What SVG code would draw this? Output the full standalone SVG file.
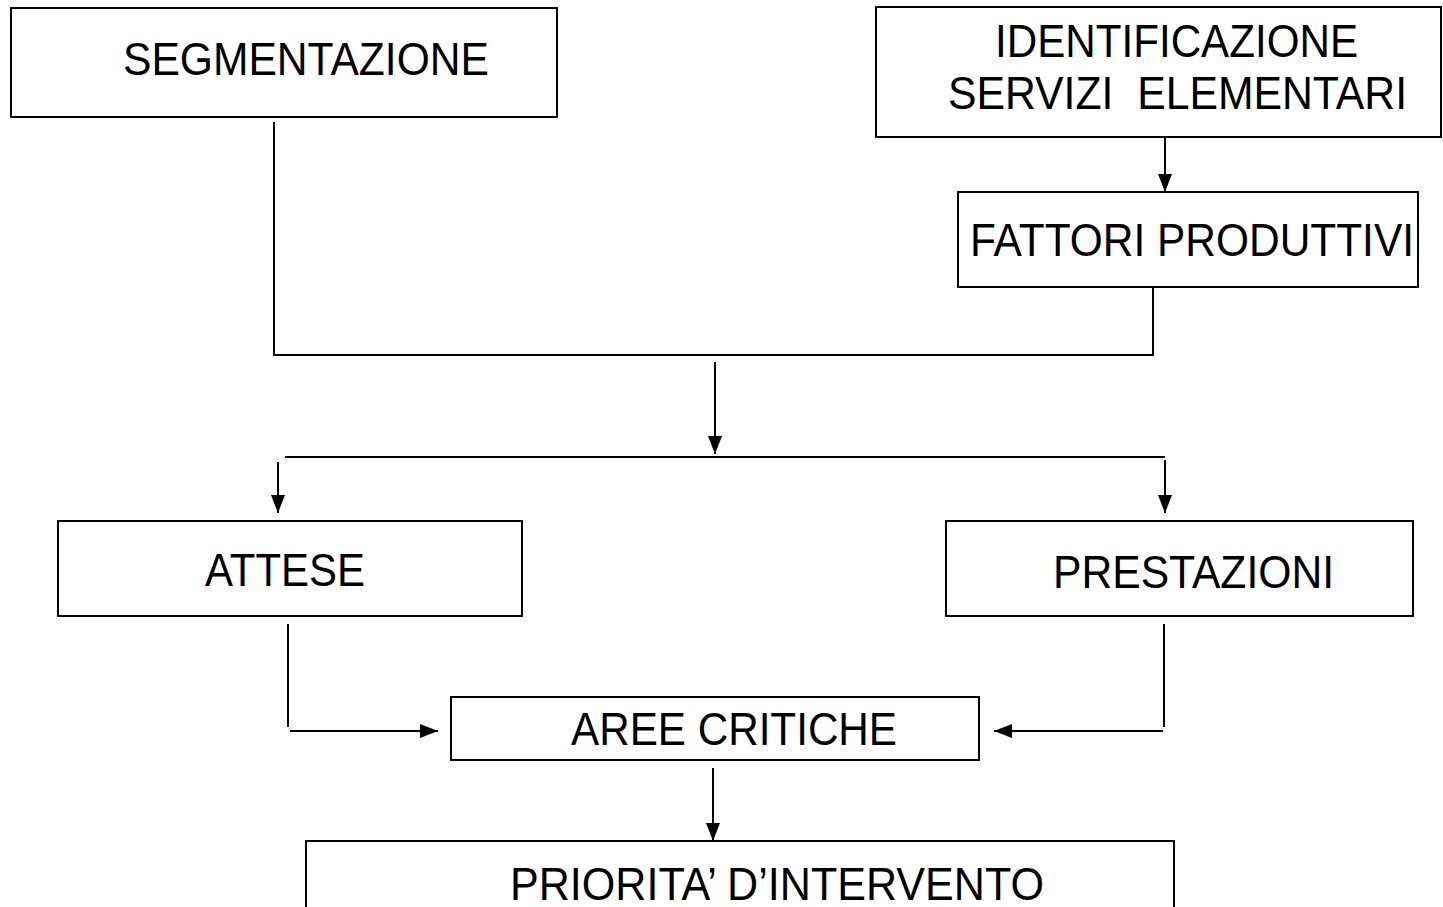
<svg xmlns="http://www.w3.org/2000/svg" width="1443" height="907" viewBox="0 0 1443 907">
<style>
.box{fill:#fff;stroke:#000;stroke-width:2}
.ln{fill:none;stroke:#000;stroke-width:2}
.t{font-family:"Liberation Sans",Arial,sans-serif;font-size:46px;fill:#000}
</style>
<defs>
<marker id="ah" viewBox="0 0 18 14" refX="18" refY="7" markerWidth="18" markerHeight="14" markerUnits="userSpaceOnUse" orient="auto">
<path d="M0,0 L18,7 L0,14 Z" fill="#000"/>
</marker>
</defs>
<rect width="1443" height="907" fill="#fff"/>
<g id="connectors">
<line class="ln" x1="1165" y1="138" x2="1165" y2="192" marker-end="url(#ah)"/>
<polyline class="ln" points="274,122 274,355 1153,355 1153,288"/>
<line class="ln" x1="715" y1="362" x2="715" y2="454" marker-end="url(#ah)"/>
<line class="ln" x1="285" y1="457" x2="1165" y2="457"/>
<line class="ln" x1="278" y1="462" x2="278" y2="513" marker-end="url(#ah)"/>
<line class="ln" x1="1165" y1="460" x2="1165" y2="513" marker-end="url(#ah)"/>
<line class="ln" x1="288" y1="624" x2="288" y2="727"/>
<line class="ln" x1="290" y1="731" x2="438" y2="731" marker-end="url(#ah)"/>
<line class="ln" x1="1164" y1="624" x2="1164" y2="727"/>
<line class="ln" x1="1163" y1="731" x2="994" y2="731" marker-end="url(#ah)"/>
<line class="ln" x1="713" y1="768" x2="713" y2="841" marker-end="url(#ah)"/>
</g>
<g id="segmentazione">
<rect class="box" x="11" y="8" width="546" height="109"/>
<text class="t" x="123" y="75" textLength="366" lengthAdjust="spacingAndGlyphs">SEGMENTAZIONE</text>
</g>
<g id="identificazione">
<rect class="box" x="876" y="7" width="565" height="130"/>
<text class="t" x="995" y="57" textLength="363" lengthAdjust="spacingAndGlyphs">IDENTIFICAZIONE</text>
<text class="t" x="948" y="109" textLength="459" lengthAdjust="spacingAndGlyphs" xml:space="preserve">SERVIZI  ELEMENTARI</text>
</g>
<g id="fattori">
<rect class="box" x="958" y="192" width="460" height="95"/>
<text class="t" x="970" y="256" textLength="444" lengthAdjust="spacingAndGlyphs">FATTORI PRODUTTIVI</text>
</g>
<g id="attese">
<rect class="box" x="58" y="521" width="464" height="95"/>
<text class="t" x="205" y="586" textLength="160" lengthAdjust="spacingAndGlyphs">ATTESE</text>
</g>
<g id="prestazioni">
<rect class="box" x="946" y="521" width="467" height="95"/>
<text class="t" x="1053" y="588" textLength="281" lengthAdjust="spacingAndGlyphs">PRESTAZIONI</text>
</g>
<g id="aree">
<rect class="box" x="451" y="697" width="528" height="63"/>
<text class="t" x="571" y="745" textLength="326" lengthAdjust="spacingAndGlyphs">AREE CRITICHE</text>
</g>
<g id="priorita">
<rect class="box" x="306" y="841" width="868" height="80"/>
<text class="t" x="510" y="900" textLength="534" lengthAdjust="spacingAndGlyphs">PRIORITA’ D’INTERVENTO</text>
</g>
</svg>
